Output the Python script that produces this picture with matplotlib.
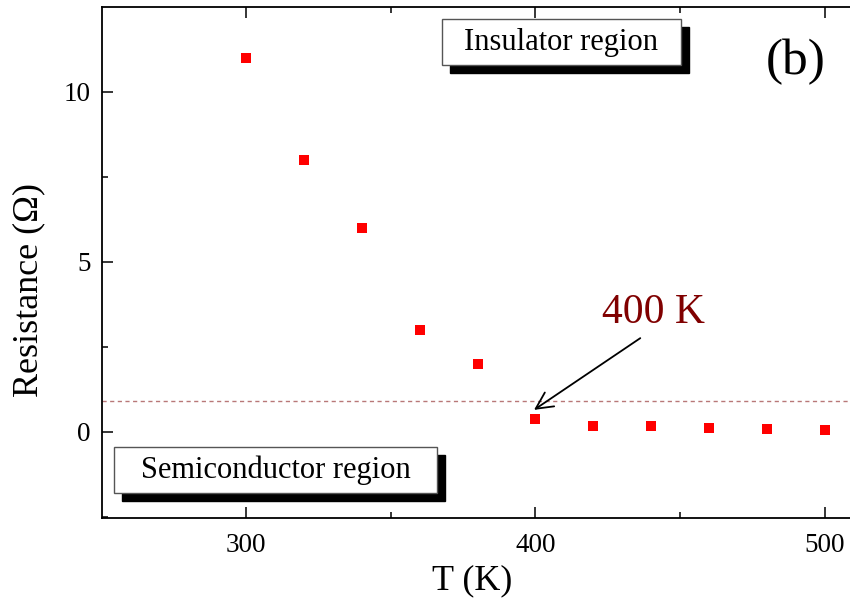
import matplotlib
matplotlib.use("Agg")
import matplotlib.pyplot as plt
from matplotlib.patches import Rectangle

plt.rcParams['font.family'] = ['Liberation Serif', 'DejaVu Serif']

# data
temperature = [300, 320, 340, 360, 380, 400, 420, 440, 460, 480, 500]
resistance = [11.0, 8.0, 6.0, 3.0, 2.0, 0.38, 0.18, 0.18, 0.12, 0.09, 0.06]
threshold = 0.91
transition_T = 400
transition_R = 0.38

fig = plt.figure(figsize=(8.5, 6.01), dpi=100)
ax = fig.add_axes([102 / 850, 1 - 518 / 601, 765 / 850, 511 / 601])

ax.plot(temperature, resistance, 's', color='#ff0000', markersize=7.2,
        markeredgewidth=0, zorder=5)
ax.axhline(threshold, color='#b87878', linestyle=(0, (3, 2.5)), linewidth=1.0)

ax.text(440.6, 3.5, '400 K', ha='center', va='center', fontsize=30,
        color='#800000')
ax.annotate('', xy=(transition_T - 0.5, transition_R + 0.27),
            xytext=(436.2, 2.76),
            arrowprops=dict(arrowstyle='->', color='black', lw=1.3,
                            mutation_scale=30, shrinkA=0, shrinkB=0))

ax.set_xlim(250.3, 514.5)
ax.set_ylim(-2.53, 12.5)
ax.set_xticks([300, 400, 500])
ax.set_xticks([350, 450], minor=True)
ax.set_yticks([0, 5, 10])
ax.set_yticks([-2.5, 2.5, 7.5], minor=True)
ax.tick_params(which='both', direction='in', top=True, right=False,
               labelsize=19.5, width=1.1)
ax.tick_params(axis='x', pad=11)
ax.tick_params(axis='y', pad=8)
ax.tick_params(which='major', length=8)
ax.tick_params(which='minor', length=4)
for s in ax.spines.values():
    s.set_linewidth(1.3)
ax.spines['right'].set_visible(False)

ax.set_xlabel('T (K)', fontsize=26)
ax.xaxis.set_label_coords(0.484, -0.09)
ax.set_ylabel('Resistance (Ω)', fontsize=26)
ax.yaxis.set_label_coords(-0.0745, 0.446)

# boxed region labels with drop shadow (axes fraction)
def shadow_box(x0, y0, x1, y1, label):
    dx, dy = 8 / 765, 8 / 511
    ax.add_patch(Rectangle((x0 + dx, y0 - dy), x1 - x0, y1 - y0,
                           transform=ax.transAxes, facecolor='black',
                           edgecolor='black', zorder=6, clip_on=False))
    ax.add_patch(Rectangle((x0, y0), x1 - x0, y1 - y0,
                           transform=ax.transAxes, facecolor='white',
                           edgecolor='#555555', linewidth=1.0, zorder=7,
                           clip_on=False))
    ax.text((x0 + x1) / 2, (y0 + y1) / 2, label, transform=ax.transAxes,
            ha='center', va='center', fontsize=22, zorder=8)

shadow_box(0.444, 0.886, 0.757, 0.977, 'Insulator region')
shadow_box(0.0157, 0.049, 0.438, 0.139, 'Semiconductor region')

ax.text(0.907, 0.892, '(b)', transform=ax.transAxes, ha='center',
        va='center', fontsize=37)

fig.savefig('out.png', dpi=100)
